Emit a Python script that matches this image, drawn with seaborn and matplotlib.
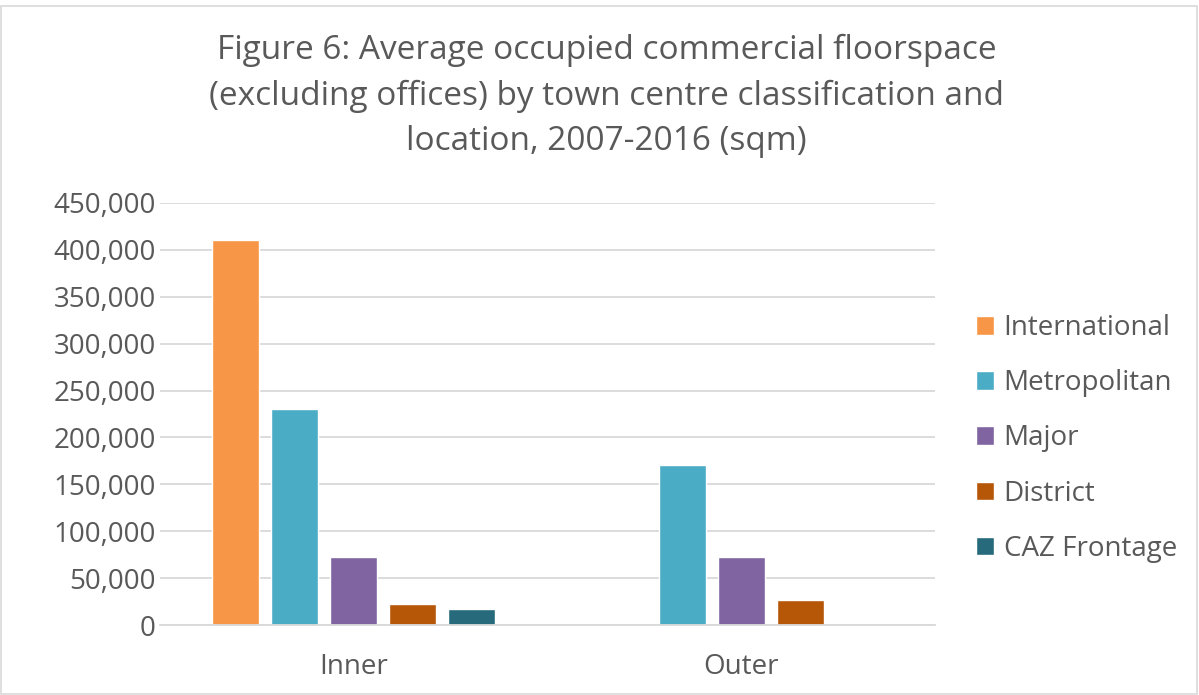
"""Figure 6: average occupied commercial floorspace by town centre classification."""

import matplotlib.pyplot as plt
import matplotlib.patches as mpatches
import pandas as pd
import seaborn as sns
from matplotlib.ticker import FuncFormatter

locations = ["Inner", "Outer"]
classes = ["International", "Metropolitan", "Major", "District", "CAZ Frontage"]
colors = ["#F79646", "#4BACC6", "#8064A2", "#B65708", "#276A7C"]

inner_values = [410000, 230000, 72500, 22000, 17000]
outer_values = [None, 171000, 72000, 27200, None]

TEXT = "#595959"
GRID = "#D9D9D9"

rows = []
for loc, vals in zip(locations, [inner_values, outer_values]):
    for cls, v in zip(classes, vals):
        if v is not None:
            rows.append({"location": loc, "class": cls, "sqm": v})
df = pd.DataFrame(rows)

sns.set_style("white")
plt.rcParams["font.family"] = ["Open Sans", "DejaVu Sans"]

fig = plt.figure(figsize=(11.99, 6.95), dpi=100)
ax = fig.add_axes([0.1334, 0.1007, 0.6466, 0.6073])

sns.barplot(
    data=df, x="location", y="sqm", hue="class",
    order=locations, hue_order=classes, palette=colors,
    errorbar=None, width=0.76, gap=0.2, ax=ax, saturation=1,
)

ax.set_xlim(-0.5, 1.5)
ax.set_ylim(0, 450000)
ax.set_yticks(range(0, 450001, 50000))
ax.yaxis.set_major_formatter(FuncFormatter(lambda v, _: f"{int(v):,}"))
ax.grid(axis="y", color=GRID, linewidth=1.3)
ax.set_axisbelow(True)
for side in ["top", "right", "left"]:
    ax.spines[side].set_visible(False)
ax.spines["bottom"].set_color(GRID)
ax.spines["bottom"].set_linewidth(1.3)
ax.tick_params(axis="both", length=0, labelsize=20, labelcolor=TEXT)
ax.tick_params(axis="y", pad=3)
ax.tick_params(axis="x", pad=20)
ax.set_xlabel("")
ax.set_ylabel("")

ax.legend(
    loc="center left", bbox_to_anchor=(1.02, 0.442), frameon=False,
    fontsize=20, labelcolor=TEXT, handlelength=0.65, handleheight=0.65,
    handletextpad=0.35, labelspacing=0.98,
)

fig.text(
    0.506, 0.862,
    "Figure 6: Average occupied commercial floorspace\n"
    "(excluding offices) by town centre classification and\n"
    "location, 2007-2016 (sqm)",
    ha="center", va="center", fontsize=24, color=TEXT, linespacing=1.5,
)

fig.patches.append(mpatches.Rectangle(
    (0.001, 0.002), 0.997, 0.99, transform=fig.transFigure,
    fill=False, edgecolor=GRID, linewidth=1.2,
))

fig.savefig("out.png", dpi=100)
